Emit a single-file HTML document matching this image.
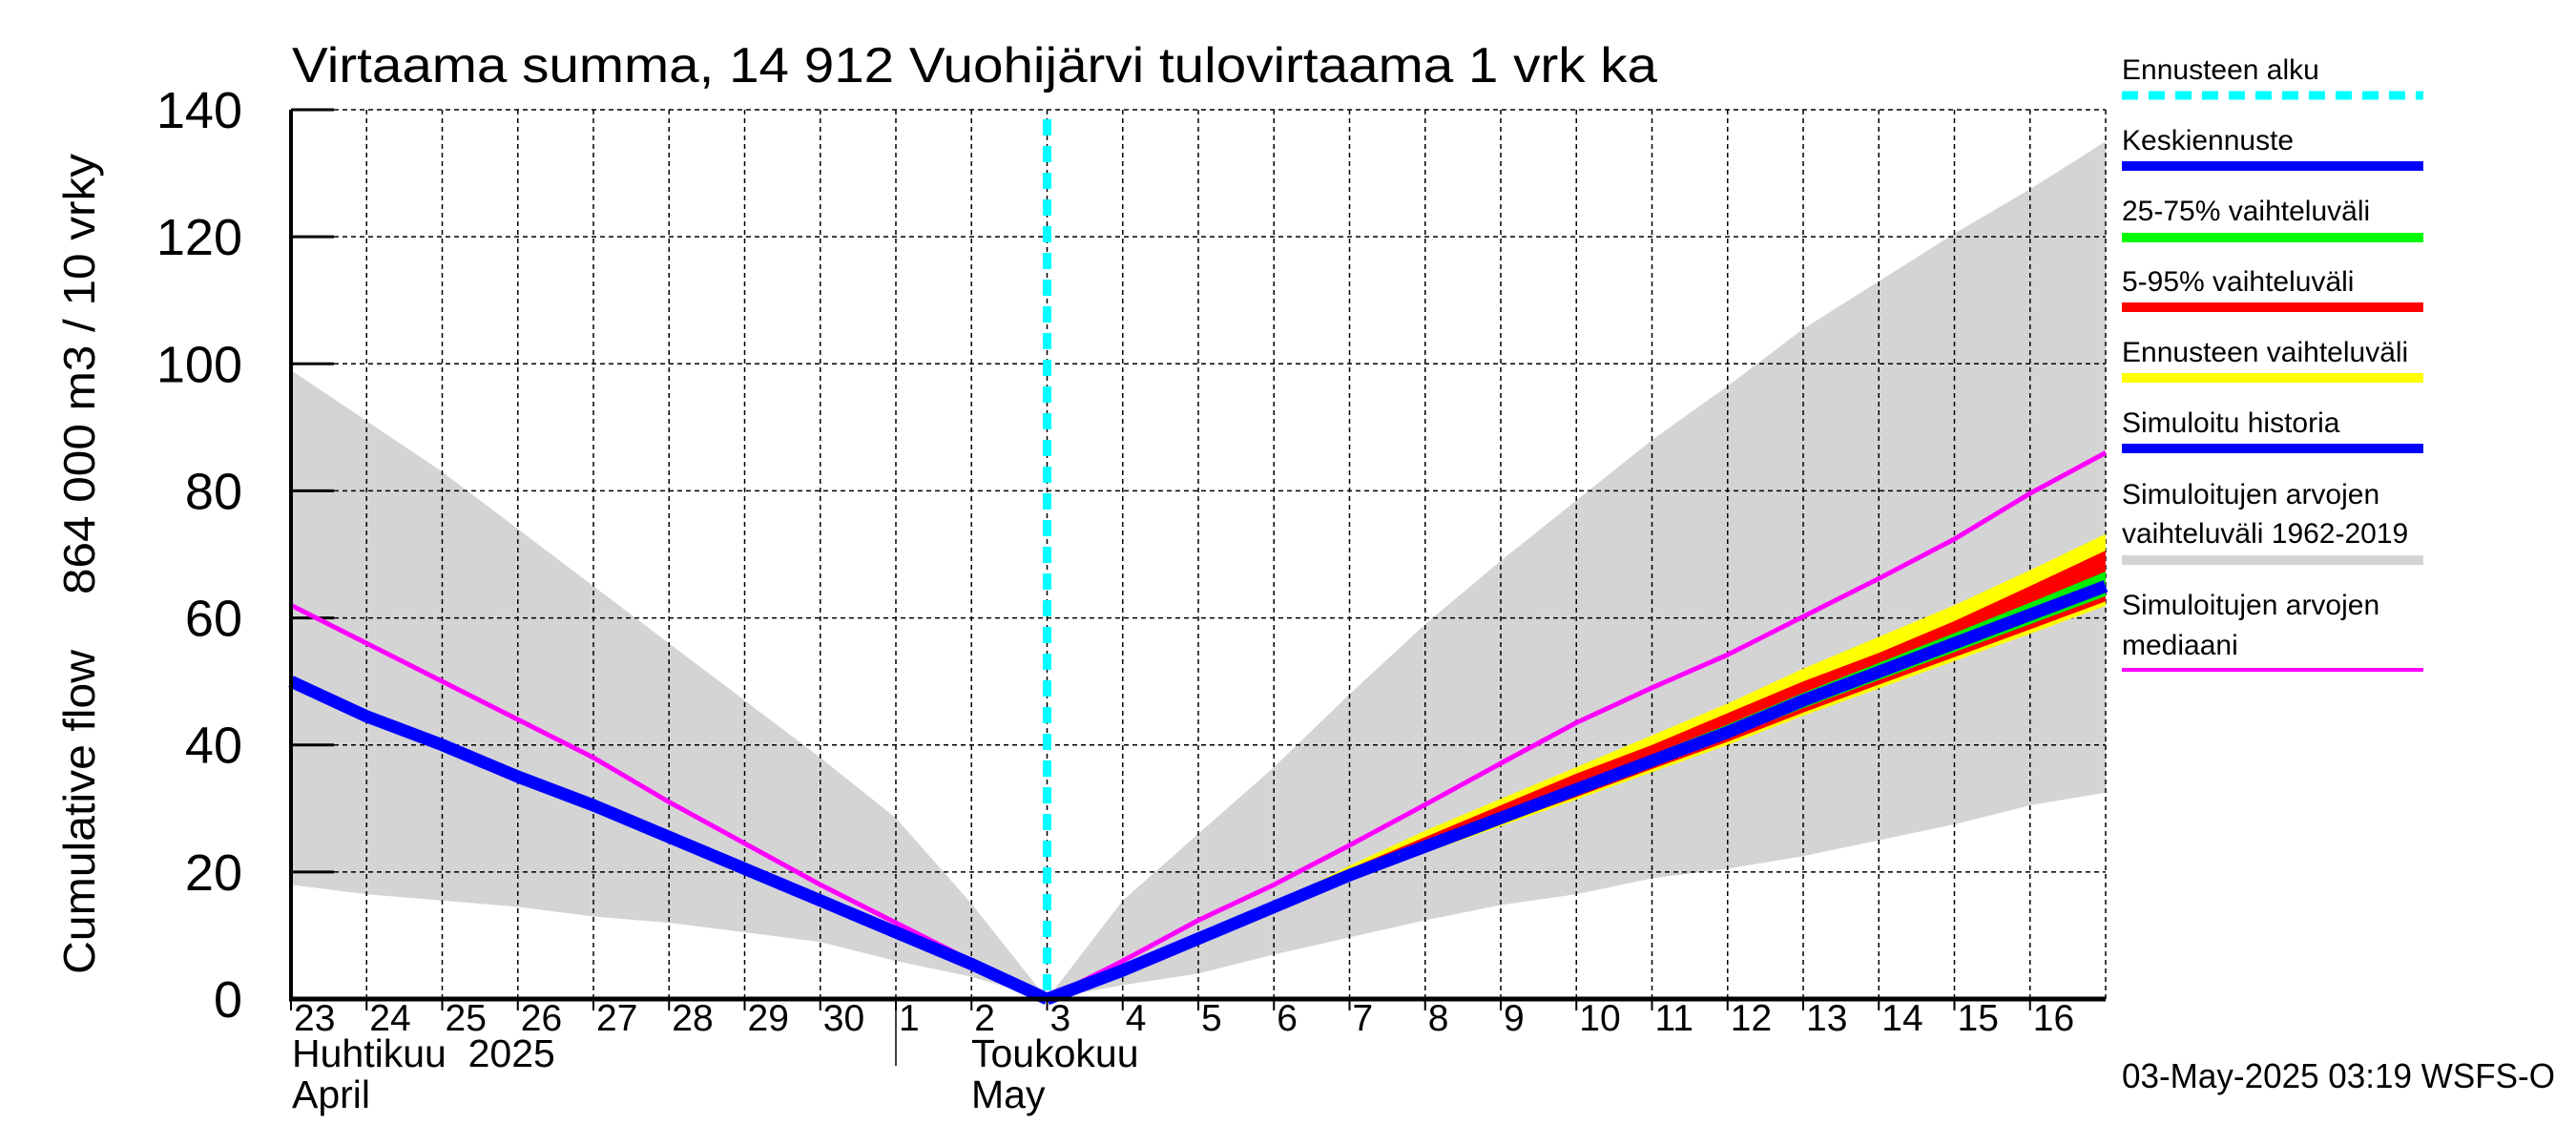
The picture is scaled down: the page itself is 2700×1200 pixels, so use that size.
<!DOCTYPE html>
<html><head><meta charset="utf-8"><style>
html,body{margin:0;padding:0;background:#fff;}
svg{display:block;font-family:"Liberation Sans",sans-serif;}
</style></head><body>
<svg id="chart" width="2700" height="1200" viewBox="0 0 2700 1200" xmlns="http://www.w3.org/2000/svg">
<rect width="2700" height="1200" fill="#fff"/>
<g id="plot"></g>
</svg>
<script>
// Days from 23 Apr (index 0) to 17 May (index 24)
const dayLabels = ["23","24","25","26","27","28","29","30","1","2","3","4","5","6","7","8","9","10","11","12","13","14","15","16"];
const yTicks = [0,20,40,60,80,100,120,140];
const greyUpper = [99,91,83,74,65,56,47,38,28.5,15,0,15.5,26,36.5,48,59,69,78.5,88,96.5,105.5,113,120.5,127.5,135];
const greyLower = [18,16.5,15.5,14.5,13,12,10.5,9,6,3.5,0,2.2,4,7,9.7,12.4,14.8,16.5,19,20.5,22.5,25,27.5,30.5,32.5];
const median = [62,56,50,44,38,31,24.5,18,12,6,0,6,12.4,18,24.2,30.6,37.1,43.5,49,54.2,60.2,66.2,72.4,79.6,86];
const history = [50,44.5,40,35,30.5,25.5,20.5,15.5,10.5,5.5,0];
// forecast from index 10 (3 May) to 24
const forecast = [0,4.5,9.5,14.5,19.5,24,28.5,33,37.5,42,47,51.5,56,60.5,65];
const yellowTop = [0,4.5,9.5,15,21,26.5,31.5,36.5,41.5,46.5,52,57,62,67.5,73.2];
const redTop = [0,4.5,9.5,14.8,20.5,25.5,30.5,35.5,40,45,50,54.5,59.5,65,70.6];
const greenTop = [0,4.5,9.5,14.6,19.9,24.6,29.2,33.8,38.5,43.2,48.2,52.9,57.6,62.4,67.3];
const greenBot = [0,4.5,9.5,14.4,19.2,23.6,28,32.3,36.7,41.1,45.8,50.2,54.6,59,63.4];
const redBot = [0,4.5,9.5,14.2,19,23.3,27.6,31.8,36.2,40.5,45.1,49.5,53.8,58.2,62.6];
const yellowBot = [0,4.5,9.5,14,18.7,23,27.2,31.4,35.7,40,44.6,48.9,53.2,57.5,61.9];
const forecastStart = 10;

const X0=305, X1=2207, Y0=1047, Y1=115, NDAYS=24, YMAX=140;
const xs = i => X0 + (X1-X0)*i/NDAYS;
const ys = v => Y0 - (Y0-Y1)*v/YMAX;
const NS="http://www.w3.org/2000/svg";
const g=document.getElementById('plot');
function mk(tag, attrs, parent){const e=document.createElementNS(NS,tag);for(const k in attrs)e.setAttribute(k,attrs[k]);(parent||g).appendChild(e);return e;}
function pts(arr,off){return arr.map((v,i)=>xs(i+off).toFixed(1)+","+ys(v).toFixed(1));}
function band(top,bot,off,fill,name){
  const p=pts(top,off).concat(pts(bot,off).reverse()).join(" ");
  const e=mk('polygon',{points:p,fill:fill});
  
  
}
function line(arr,off,col,w,name){
  const e=mk('polyline',{points:pts(arr,off).join(" "),fill:'none',stroke:col,'stroke-width':w,'stroke-linejoin':'round'});
  
  
}
band(greyUpper,greyLower,0,'#d4d4d4','historical-range-band');
for(let i=1;i<NDAYS;i++){
  const e=mk('line',{x1:xs(i),x2:xs(i),y1:Y1,y2:Y0,stroke:'#000','stroke-width':1.5,'stroke-dasharray':'5,4'});
  
  
}
{const e=mk('line',{x1:X1,x2:X1,y1:Y1,y2:Y0,stroke:'#000','stroke-width':1.5,'stroke-dasharray':'5,4'});
 
 }
yTicks.forEach(v=>{
  if(v>0){const e=mk('line',{x1:X0,x2:X1,y1:ys(v),y2:ys(v),stroke:'#000','stroke-width':1.5,'stroke-dasharray':'5,4'});
  
  
  const t=mk('line',{x1:X0,x2:350,y1:ys(v),y2:ys(v),stroke:'#000','stroke-width':3});
  
  }
  const l=mk('text',{x:254,y:ys(v)+19,'text-anchor':'end','font-size':54});
  l.textContent=v;
  
  
});
band(yellowTop,yellowBot,forecastStart,'#ffff00','forecast-range-band');
band(redTop,redBot,forecastStart,'#ff0000','band-5-95');
band(greenTop,greenBot,forecastStart,'#00ee00','band-25-75');
line(median,0,'#ff00ff',5,'median-line');
line(history,0,'#0000ff',13,'simulated-history-line');
line(forecast,forecastStart,'#0000ff',13,'mean-forecast-line');
{const e=mk('line',{x1:xs(forecastStart),x2:xs(forecastStart),y1:125,y2:Y0,stroke:'#00ffff','stroke-width':9,'stroke-dasharray':'17,11'});
 
 }
{const a=mk('line',{x1:X0,x2:X0,y1:Y1,y2:Y0+2,stroke:'#000','stroke-width':4});
 
 
 const b=mk('line',{x1:X0-2,x2:X1,y1:Y0,y2:Y0,stroke:'#000','stroke-width':5});
 
 }
dayLabels.forEach((d,i)=>{
  const t=mk('line',{x1:xs(i),x2:xs(i),y1:Y0,y2:Y0+12,stroke:'#000','stroke-width':2});
  
  
  const l=mk('text',{x:xs(i)+3,y:1080,'font-size':39});
  l.textContent=d;
  
  
});
{const s=mk('line',{x1:xs(8),x2:xs(8),y1:Y0,y2:1117,stroke:'#000','stroke-width':1.5});
 
 }
</script>
<svg style="position:absolute;left:0;top:0" width="2700" height="1200">
<text x="306" y="86" font-size="52" textLength="1431" lengthAdjust="spacingAndGlyphs" font-family="Liberation Sans, sans-serif">Virtaama summa, 14 912 Vuohijärvi tulovirtaama 1 vrk ka</text>
<text transform="translate(99,1021) rotate(-90)" font-size="46" textLength="340" lengthAdjust="spacingAndGlyphs" font-family="Liberation Sans, sans-serif">Cumulative flow</text>
<text transform="translate(99,623) rotate(-90)" font-size="46" textLength="462" lengthAdjust="spacingAndGlyphs" font-family="Liberation Sans, sans-serif">864 000 m3 / 10 vrky</text>
<g font-size="41" font-family="Liberation Sans, sans-serif">
<text x="306" y="1118" xml:space="preserve" style="white-space:pre">Huhtikuu  2025</text>
<text x="306" y="1161">April</text>
<text x="1018" y="1118">Toukokuu</text>
<text x="1018" y="1161">May</text>
</g>
<g font-size="30" font-family="Liberation Sans, sans-serif">
<text x="2224" y="83">Ennusteen alku</text>
<line x1="2224" x2="2540" y1="100" y2="100" stroke="#00ffff" stroke-width="9" stroke-dasharray="17,11"/>
<text x="2224" y="157">Keskiennuste</text>
<line x1="2224" x2="2540" y1="174" y2="174" stroke="#0000ff" stroke-width="10"/>
<text x="2224" y="231">25-75% vaihteluväli</text>
<line x1="2224" x2="2540" y1="249" y2="249" stroke="#00ff00" stroke-width="10"/>
<text x="2224" y="305">5-95% vaihteluväli</text>
<line x1="2224" x2="2540" y1="322" y2="322" stroke="#ff0000" stroke-width="10"/>
<text x="2224" y="379">Ennusteen vaihteluväli</text>
<line x1="2224" x2="2540" y1="396" y2="396" stroke="#ffff00" stroke-width="10"/>
<text x="2224" y="453">Simuloitu historia</text>
<line x1="2224" x2="2540" y1="470" y2="470" stroke="#0000ff" stroke-width="10"/>
<text x="2224" y="528">Simuloitujen arvojen</text>
<text x="2224" y="569">vaihteluväli 1962-2019</text>
<line x1="2224" x2="2540" y1="587" y2="587" stroke="#d4d4d4" stroke-width="10"/>
<text x="2224" y="644">Simuloitujen arvojen</text>
<text x="2224" y="686">mediaani</text>
<line x1="2224" x2="2540" y1="702" y2="702" stroke="#ff00ff" stroke-width="4"/>
</g>
<text x="2224" y="1140" font-size="36" textLength="454" lengthAdjust="spacingAndGlyphs" font-family="Liberation Sans, sans-serif">03-May-2025 03:19 WSFS-O</text>
</svg>
</body></html>
